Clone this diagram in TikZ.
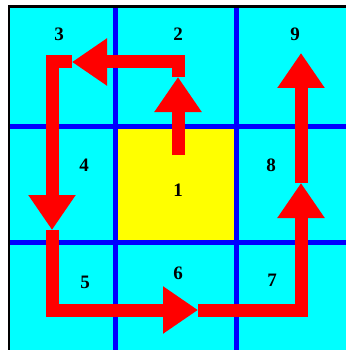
\documentclass[tikz,border=0pt]{standalone}
\usepackage{fontspec}
\setmainfont{Liberation Serif}
\usepackage{tikz}
\usetikzlibrary{arrows.meta}
\definecolor{cellcyan}{RGB}{0,255,255}
\definecolor{cellyellow}{RGB}{255,255,0}
\definecolor{gridblue}{RGB}{0,0,255}
\definecolor{pathred}{RGB}{255,0,0}

\begin{document}
\begin{tikzpicture}[x=1pt, y=-1pt, font=\fontsize{19}{19}\selectfont\bfseries]
  \useasboundingbox (0,0) rectangle (346,350);
  \tikzset{gridline/.style={gridblue, line width=5pt},
    walk/.style={pathred, line width=13pt, line join=miter, -{Triangle[length=35pt 0 0, width=45pt 0 0]}}}
  % ---- cells ----
  \fill[black] (8,5) rectangle (346,350);
  \fill[cellcyan] (10,8) rectangle (346,350);
  \fill[cellyellow] (115,126) rectangle (236,242);
  \foreach \x in {115,236} {
    \draw[gridline] (\x,8) -- (\x,350);
  }
  \foreach \y in {126,242} {
    \draw[gridline] (10,\y) -- (346,\y);
  }
  % ---- cell numbers ----
  \foreach \n/\x/\y in {1/178/190, 2/178/34, 3/59/34, 4/84/165, 5/85/282, 6/178/273, 7/272/280, 8/271/165, 9/295/34} {
    \node[inner sep=0pt] (n\n) at (\x,\y) {\n};
  }
  % ---- the walk round the centre cell ----
  \coordinate (start) at (178,155);
  \coordinate (up) at (178,77);
  \coordinate (topright) at (178,62);
  \coordinate (left) at (72,62);
  \coordinate (topleft) at (52,62);
  \coordinate (down) at (52,230);
  \coordinate (bottomleft) at (52,310);
  \coordinate (right) at (198,310);
  \coordinate (bottomright) at (301,310);
  \coordinate (rise) at (301,183);
  \coordinate (finish) at (301,53);
  \draw[walk] (start) -- (up);
  \draw[walk] (up) -- (topright) -- (left);
  \draw[walk] (left) -- (topleft) -- (down);
  \draw[walk] (down) -- (bottomleft) -- (right);
  \draw[walk] (right) -- (bottomright) -- (rise);
  \draw[walk] (rise) -- (finish);
\end{tikzpicture}
\end{document}
